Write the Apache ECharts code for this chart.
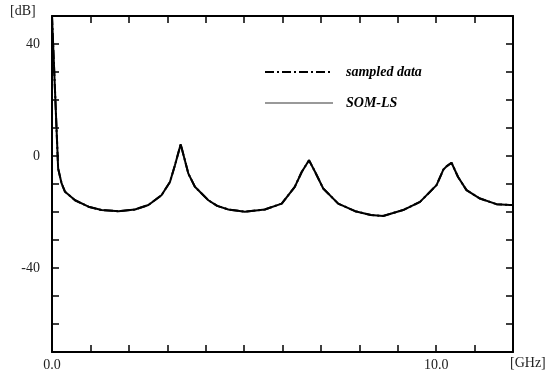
<!DOCTYPE html>
<html>
<head>
<meta charset="utf-8">
<script src="https://cdn.jsdelivr.net/npm/echarts@6/dist/echarts.min.js"></script>
<style>
  html, body { margin: 0; padding: 0; background: #fff; }
  #chart { width: 547px; height: 374px; }
</style>
</head>
<body>
<div id="chart"></div>
<script>
// frequency in GHz, magnitude in dB
const freqGHz = [0, 0.16, 0.25, 0.34, 0.6, 0.95, 1.29, 1.73, 2.16, 2.51, 2.85, 3.07, 3.2, 3.35, 3.55, 3.72, 4.07, 4.3, 4.59, 5.02, 5.54, 5.98, 6.32, 6.5, 6.69, 6.85, 7.06, 7.45, 7.89, 8.3, 8.62, 9.14, 9.58, 10.01, 10.19, 10.27, 10.4, 10.57, 10.79, 11.14, 11.57, 11.92, 12.0]
const sampledDb = [50, -4.5, -9.8, -12.8, -15.8, -18.1, -19.3, -19.7, -19.1, -17.5, -14.0, -9.3, -3.3, 4.2, -6.3, -11, -15.8, -17.8, -19.1, -19.9, -19.1, -17.0, -11, -5.7, -1.5, -5.7, -11.6, -17, -19.7, -21.1, -21.4, -19.3, -16.4, -10.4, -4.8, -3.7, -2.4, -7.5, -12.2, -15.2, -17.2, -17.5, -17.5]
const somLsDb = [50, -4.5, -9.8, -12.8, -15.8, -18.1, -19.3, -19.7, -19.1, -17.5, -14.0, -9.3, -3.3, 4.2, -6.3, -11, -15.8, -17.8, -19.1, -19.9, -19.1, -17.0, -11, -5.7, -1.5, -5.7, -11.6, -17, -19.7, -21.1, -21.4, -19.3, -16.4, -10.4, -4.8, -3.7, -2.4, -7.5, -12.2, -15.2, -17.2, -17.5, -17.5]
const seriesNames = ['sampled data', 'SOM-LS']
const xLabelTicks = [0, 10]
const yLabelTicks = [40, 0, -40]

const font = 'Liberation Serif'
const pairs = (ys) => freqGHz.map((f, i) => [f, ys[i]])

const chart = echarts.init(document.getElementById('chart'))

const axisLine = { show: true, onZero: false, lineStyle: { color: '#000', width: 2 } }
const axisTick = { show: true, inside: true, length: 7, lineStyle: { color: '#000', width: 1.5 } }

const option = {
  animation: false,
  grid: { left: 52, right: 34, top: 16, bottom: 22, containLabel: false },
  legend: {
    orient: 'vertical',
    left: 259,
    top: 60,
    itemWidth: 68,
    itemHeight: 14,
    itemGap: 17,
    itemStyle: { color: 'transparent', borderWidth: 0, opacity: 0 },
    data: [
      { name: seriesNames[0] },
      { name: seriesNames[1], lineStyle: { color: '#777', width: 1.5 } }
    ],
    textStyle: { fontFamily: font, fontSize: 14, fontWeight: 'bold', fontStyle: 'italic', color: '#000', padding: [0, 0, 0, 8] }
  },
  xAxis: [
    {
      type: 'value', position: 'bottom', min: 0, max: 12, interval: 1,
      axisLine, axisTick, splitLine: { show: false },
      axisLabel: {
        fontFamily: font, fontSize: 14, color: '#222', margin: 6,
        formatter: v => xLabelTicks.includes(v) ? v.toFixed(1) : ''
      }
    },
    {
      type: 'value', position: 'top', min: 0, max: 12, interval: 1,
      axisLine, axisTick, splitLine: { show: false }, axisLabel: { show: false }
    }
  ],
  yAxis: [
    {
      type: 'value', position: 'left', min: -70, max: 50, interval: 10,
      axisLine, axisTick, splitLine: { show: false },
      axisLabel: {
        fontFamily: font, fontSize: 14, color: '#222', margin: 12,
        formatter: v => yLabelTicks.includes(v) ? String(v) : ''
      }
    },
    {
      type: 'value', position: 'right', min: -70, max: 50, interval: 10,
      axisLine, axisTick, splitLine: { show: false }, axisLabel: { show: false }
    }
  ],
  graphic: [
    { type: 'text', left: 10, top: 4, style: { text: '[dB]', fontFamily: font, fontSize: 14, fill: '#222' } },
    { type: 'text', left: 510, top: 356, style: { text: '[GHz]', fontFamily: font, fontSize: 14, fill: '#222' } }
  ],
  series: [
    {
      name: seriesNames[0], type: 'line', data: pairs(sampledDb),
      showSymbol: false, symbol: 'none', clip: true,
      lineStyle: { color: '#000', width: 2, type: [9, 3, 2, 3] },
      itemStyle: { color: '#000' }
    },
    {
      name: seriesNames[1], type: 'line', data: pairs(somLsDb),
      showSymbol: false, symbol: 'none', clip: true,
      lineStyle: { color: '#000', width: 2 },
      itemStyle: { color: '#000' }
    }
  ]
}

chart.setOption(option)
</script>
</body>
</html>
